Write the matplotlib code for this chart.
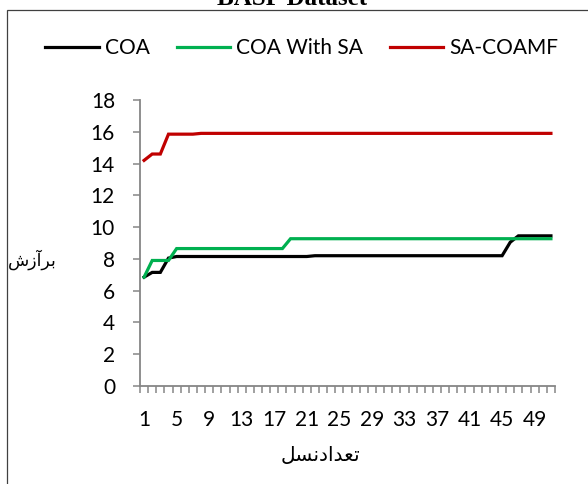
import numpy as np
import matplotlib
matplotlib.use('Agg')
import matplotlib.pyplot as plt
from matplotlib.patches import Rectangle

plt.rcParams['font.family'] = ['Lato', 'DejaVu Sans']

# generations 1..51
nasl = list(range(1, 52))

coa = [6.85, 7.15, 7.15, 8.05, 8.15, 8.15, 8.15, 8.15, 8.15, 8.15,
       8.15, 8.15, 8.15, 8.15, 8.15, 8.15, 8.15, 8.15, 8.15, 8.15,
       8.15, 8.2, 8.2, 8.2, 8.2, 8.2, 8.2, 8.2, 8.2, 8.2,
       8.2, 8.2, 8.2, 8.2, 8.2, 8.2, 8.2, 8.2, 8.2, 8.2,
       8.2, 8.2, 8.2, 8.2, 8.2, 9.05, 9.45, 9.45, 9.45, 9.45,
       9.45]
coa_sa = [6.85, 7.9, 7.9, 7.9, 8.65, 8.65, 8.65, 8.65, 8.65, 8.65,
          8.65, 8.65, 8.65, 8.65, 8.65, 8.65, 8.65, 8.65, 9.27, 9.27,
          9.27, 9.27, 9.27, 9.27, 9.27, 9.27, 9.27, 9.27, 9.27, 9.27,
          9.27, 9.27, 9.27, 9.27, 9.27, 9.27, 9.27, 9.27, 9.27, 9.27,
          9.27, 9.27, 9.27, 9.27, 9.27, 9.27, 9.27, 9.27, 9.27, 9.27,
          9.27]
sa_coamf = [14.2, 14.6, 14.6, 15.85, 15.85, 15.85, 15.85, 15.9, 15.9, 15.9,
            15.9, 15.9, 15.9, 15.9, 15.9, 15.9, 15.9, 15.9, 15.9, 15.9,
            15.9, 15.9, 15.9, 15.9, 15.9, 15.9, 15.9, 15.9, 15.9, 15.9,
            15.9, 15.9, 15.9, 15.9, 15.9, 15.9, 15.9, 15.9, 15.9, 15.9,
            15.9, 15.9, 15.9, 15.9, 15.9, 15.9, 15.9, 15.9, 15.9, 15.9,
            15.9]
names = ['COA', 'COA With SA', 'SA-COAMF']
colors = ['#000000', '#00B050', '#C00000']

# arabic text pre-shaped (presentation forms, visual order)
ylab = '\uFEB5\uFEAF\uFE81\uFEAE\uFE91'               # برآزش
xlab = '\uFEDE\uFEB4\uFEE7\uFEA9\uFE8D\uFEAA\uFECC\uFE97'  # تعدادنسل

fs = 15

fig = plt.figure(figsize=(5.88, 4.84), dpi=100)
ax = fig.add_axes([140/588, 1-386/484, 415/588, 286/484])

for s, n, c in zip([coa, coa_sa, sa_coamf], names, colors):
    ax.plot(nasl, s, color=c, lw=2.3, label=n, solid_joinstyle='miter')

gray = '#868686'
ax.set_xlim(0.5, len(nasl) + 0.5)
ax.set_ylim(0, 18)
ax.set_yticks(np.arange(0, 19, 2))
ax.set_xticks(np.arange(0.5, len(nasl) + 1, 1))
ax.set_xticklabels([])
ax.set_xticks(nasl[::4], minor=True)
ax.set_xticklabels([str(v) for v in nasl[::4]], minor=True)
ax.tick_params(axis='x', which='major', length=5, width=1.1, color=gray)
ax.tick_params(axis='x', which='minor', length=0, pad=17, labelsize=fs)
ax.tick_params(axis='y', length=5, width=1.1, color=gray, pad=13, labelsize=fs)
for sp in ['top', 'right']:
    ax.spines[sp].set_visible(False)
for sp in ['left', 'bottom']:
    ax.spines[sp].set_color(gray)
    ax.spines[sp].set_linewidth(1.3)

fig.text(32/588, 1-260/484, ylab, family='DejaVu Sans', fontsize=12.5,
         ha='center', va='center')
fig.text(321/588, 1-456/484, xlab, family='DejaVu Sans', fontsize=14.5,
         ha='center', va='center')

fig.text(0.497, 1-5/484, 'BASF Dataset', family='Liberation Serif',
         weight='bold', fontsize=18, ha='center', va='baseline')

fig.patches.append(Rectangle((6.5/588, -0.2), 1.2, 1.2 - 9.5/484,
                             transform=fig.transFigure, fill=False,
                             edgecolor='#404040', lw=0.9))

fig.legend(loc='center', bbox_to_anchor=(302/588, 1-48/484), ncol=3,
           frameon=False, fontsize=fs, handlelength=2.55,
           handletextpad=0.3, columnspacing=1.3)

fig.savefig('out.png', dpi=100)
